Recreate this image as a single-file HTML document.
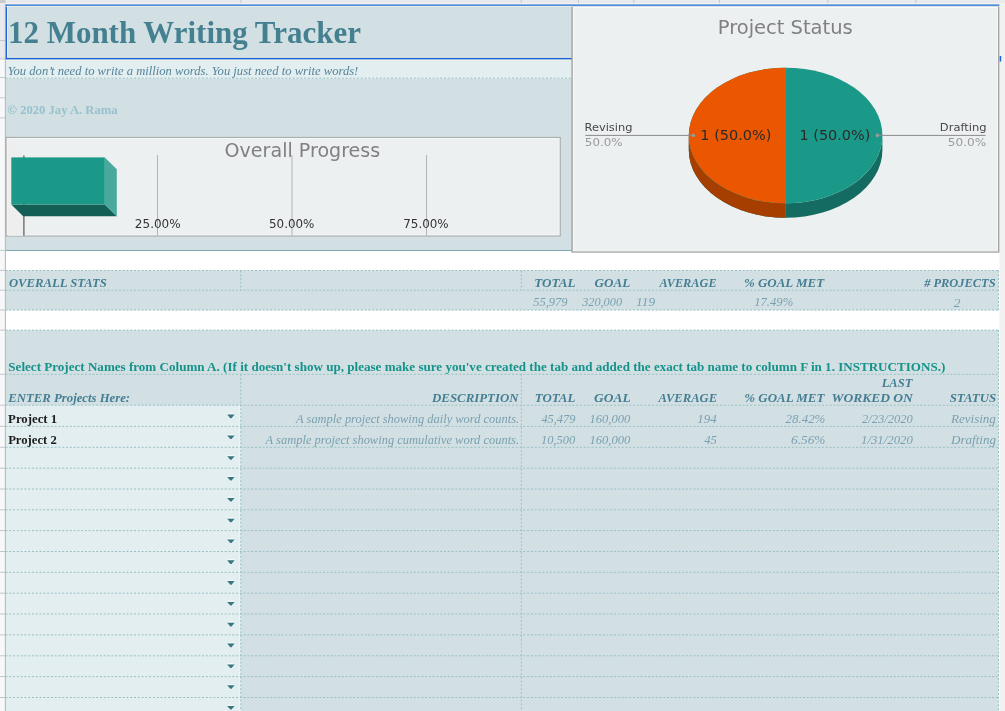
<!DOCTYPE html>
<html><head><meta charset="utf-8"><title>12 Month Writing Tracker</title>
<style>
html,body{margin:0;padding:0;background:#fff;}
body{width:1005px;height:711px;overflow:hidden;position:relative;}
svg{position:absolute;left:0;top:0;display:block;}
text{white-space:pre;}
</style></head><body>
<svg width="1005" height="711" viewBox="0 0 1005 711">
<rect x="0" y="0" width="1005" height="711" fill="#ffffff" />
<rect x="0" y="0" width="1005" height="3.4" fill="#e9eaed" />
<rect x="0" y="0" width="5.5" height="3.4" fill="#c9cacd" />
<rect x="0" y="4.5" width="5.5" height="706.5" fill="#f7f8f9" />
<rect x="0" y="3.4" width="5.5" height="55.6" fill="#e8e9ec" />
<rect x="999.5" y="4.5" width="5.5" height="711" fill="#f1f1f1" />
<rect x="5.5" y="4.5" width="993" height="246" fill="#d2e0e4" />
<rect x="5.5" y="59" width="993" height="20" fill="#e3eef0" />
<rect x="5.5" y="270.4" width="993" height="39.8" fill="#d2e0e4" />
<rect x="5.5" y="330.1" width="993" height="380.9" fill="#d2e0e4" />
<rect x="5.5" y="405.2" width="235.3" height="305.8" fill="#e3eef0" />
<line x1="239.8" y1="405.2" x2="239.8" y2="711" stroke="#eef5f6" stroke-width="1" />
<line x1="5.5" y1="250.5" x2="572" y2="250.5" stroke="#7eaab5" stroke-width="1" />
<line x1="5.5" y1="78.2" x2="572" y2="78.2" stroke="#97c0c5" stroke-width="1" stroke-dasharray="2 1.78"/>
<line x1="5.5" y1="270.5" x2="998.5" y2="270.5" stroke="#97c0c5" stroke-width="1" stroke-dasharray="2 1.78"/>
<line x1="5.5" y1="290.2" x2="998.5" y2="290.2" stroke="#97c0c5" stroke-width="1" stroke-dasharray="2 1.78"/>
<line x1="5.5" y1="310.0" x2="998.5" y2="310.0" stroke="#97c0c5" stroke-width="1" stroke-dasharray="2 1.78"/>
<line x1="240.8" y1="270.5" x2="240.8" y2="290.2" stroke="#97c0c5" stroke-width="1" stroke-dasharray="2 1.78"/>
<line x1="521.4" y1="270.5" x2="521.4" y2="290.2" stroke="#97c0c5" stroke-width="1" stroke-dasharray="2 1.78"/>
<line x1="998.5" y1="270.5" x2="998.5" y2="310" stroke="#97c0c5" stroke-width="1" stroke-dasharray="2 1.78"/>
<line x1="5.5" y1="330.1" x2="998.5" y2="330.1" stroke="#97c0c5" stroke-width="1" stroke-dasharray="2 1.78"/>
<line x1="5.5" y1="374.3" x2="998.5" y2="374.3" stroke="#97c0c5" stroke-width="1" stroke-dasharray="2 1.78"/>
<line x1="5.5" y1="405.2" x2="998.5" y2="405.2" stroke="#97c0c5" stroke-width="1" stroke-dasharray="2 1.78"/>
<line x1="5.5" y1="426.4" x2="998.5" y2="426.4" stroke="#97c0c5" stroke-width="1" stroke-dasharray="2 1.78"/>
<line x1="5.5" y1="447.3" x2="998.5" y2="447.3" stroke="#97c0c5" stroke-width="1" stroke-dasharray="2 1.78"/>
<line x1="5.5" y1="468.2" x2="998.5" y2="468.2" stroke="#97c0c5" stroke-width="1" stroke-dasharray="2 1.78"/>
<line x1="5.5" y1="489.0" x2="998.5" y2="489.0" stroke="#97c0c5" stroke-width="1" stroke-dasharray="2 1.78"/>
<line x1="5.5" y1="509.8" x2="998.5" y2="509.8" stroke="#97c0c5" stroke-width="1" stroke-dasharray="2 1.78"/>
<line x1="5.5" y1="530.6" x2="998.5" y2="530.6" stroke="#97c0c5" stroke-width="1" stroke-dasharray="2 1.78"/>
<line x1="5.5" y1="551.5" x2="998.5" y2="551.5" stroke="#97c0c5" stroke-width="1" stroke-dasharray="2 1.78"/>
<line x1="5.5" y1="572.3" x2="998.5" y2="572.3" stroke="#97c0c5" stroke-width="1" stroke-dasharray="2 1.78"/>
<line x1="5.5" y1="593.2" x2="998.5" y2="593.2" stroke="#97c0c5" stroke-width="1" stroke-dasharray="2 1.78"/>
<line x1="5.5" y1="614.0" x2="998.5" y2="614.0" stroke="#97c0c5" stroke-width="1" stroke-dasharray="2 1.78"/>
<line x1="5.5" y1="634.9" x2="998.5" y2="634.9" stroke="#97c0c5" stroke-width="1" stroke-dasharray="2 1.78"/>
<line x1="5.5" y1="655.8" x2="998.5" y2="655.8" stroke="#97c0c5" stroke-width="1" stroke-dasharray="2 1.78"/>
<line x1="5.5" y1="676.6" x2="998.5" y2="676.6" stroke="#97c0c5" stroke-width="1" stroke-dasharray="2 1.78"/>
<line x1="5.5" y1="697.5" x2="998.5" y2="697.5" stroke="#97c0c5" stroke-width="1" stroke-dasharray="2 1.78"/>
<line x1="240.8" y1="374.3" x2="240.8" y2="711" stroke="#97c0c5" stroke-width="1" stroke-dasharray="2 1.78"/>
<line x1="521.4" y1="374.3" x2="521.4" y2="711" stroke="#97c0c5" stroke-width="1" stroke-dasharray="2 1.78"/>
<line x1="998.5" y1="330.1" x2="998.5" y2="711" stroke="#97c0c5" stroke-width="1" stroke-dasharray="2 1.78"/>
<line x1="0" y1="59" x2="5.5" y2="59" stroke="#c4c6ca" stroke-width="1" />
<line x1="0" y1="77.6" x2="5.5" y2="77.6" stroke="#c4c6ca" stroke-width="1" />
<line x1="0" y1="97.8" x2="5.5" y2="97.8" stroke="#c4c6ca" stroke-width="1" />
<line x1="0" y1="117.9" x2="5.5" y2="117.9" stroke="#c4c6ca" stroke-width="1" />
<line x1="0" y1="250.3" x2="5.5" y2="250.3" stroke="#c4c6ca" stroke-width="1" />
<line x1="0" y1="270.4" x2="5.5" y2="270.4" stroke="#c4c6ca" stroke-width="1" />
<line x1="0" y1="290.2" x2="5.5" y2="290.2" stroke="#c4c6ca" stroke-width="1" />
<line x1="0" y1="310.0" x2="5.5" y2="310.0" stroke="#c4c6ca" stroke-width="1" />
<line x1="0" y1="330.1" x2="5.5" y2="330.1" stroke="#c4c6ca" stroke-width="1" />
<line x1="0" y1="374.3" x2="5.5" y2="374.3" stroke="#c4c6ca" stroke-width="1" />
<line x1="0" y1="405.2" x2="5.5" y2="405.2" stroke="#c4c6ca" stroke-width="1" />
<line x1="0" y1="426.4" x2="5.5" y2="426.4" stroke="#c4c6ca" stroke-width="1" />
<line x1="0" y1="447.3" x2="5.5" y2="447.3" stroke="#c4c6ca" stroke-width="1" />
<line x1="0" y1="468.2" x2="5.5" y2="468.2" stroke="#c4c6ca" stroke-width="1" />
<line x1="0" y1="489.0" x2="5.5" y2="489.0" stroke="#c4c6ca" stroke-width="1" />
<line x1="0" y1="509.8" x2="5.5" y2="509.8" stroke="#c4c6ca" stroke-width="1" />
<line x1="0" y1="530.6" x2="5.5" y2="530.6" stroke="#c4c6ca" stroke-width="1" />
<line x1="0" y1="551.5" x2="5.5" y2="551.5" stroke="#c4c6ca" stroke-width="1" />
<line x1="0" y1="572.3" x2="5.5" y2="572.3" stroke="#c4c6ca" stroke-width="1" />
<line x1="0" y1="593.2" x2="5.5" y2="593.2" stroke="#c4c6ca" stroke-width="1" />
<line x1="0" y1="614.0" x2="5.5" y2="614.0" stroke="#c4c6ca" stroke-width="1" />
<line x1="0" y1="634.9" x2="5.5" y2="634.9" stroke="#c4c6ca" stroke-width="1" />
<line x1="0" y1="655.8" x2="5.5" y2="655.8" stroke="#c4c6ca" stroke-width="1" />
<line x1="0" y1="676.6" x2="5.5" y2="676.6" stroke="#c4c6ca" stroke-width="1" />
<line x1="0" y1="697.5" x2="5.5" y2="697.5" stroke="#c4c6ca" stroke-width="1" />
<line x1="0" y1="40.5" x2="5.5" y2="40.5" stroke="#c4c6ca" stroke-width="1" />
<line x1="5.4" y1="3.4" x2="5.4" y2="711" stroke="#b8babd" stroke-width="1.1" />
<line x1="240.8" y1="0" x2="240.8" y2="3.4" stroke="#c4c6ca" stroke-width="1" />
<line x1="521.2" y1="0" x2="521.2" y2="3.4" stroke="#c4c6ca" stroke-width="1" />
<line x1="578.4" y1="0" x2="578.4" y2="3.4" stroke="#c4c6ca" stroke-width="1" />
<line x1="633.8" y1="0" x2="633.8" y2="3.4" stroke="#c4c6ca" stroke-width="1" />
<line x1="719.4" y1="0" x2="719.4" y2="3.4" stroke="#c4c6ca" stroke-width="1" />
<line x1="827.8" y1="0" x2="827.8" y2="3.4" stroke="#c4c6ca" stroke-width="1" />
<line x1="915.8" y1="0" x2="915.8" y2="3.4" stroke="#c4c6ca" stroke-width="1" />
<rect x="5.8" y="4.4" width="1.3" height="55.2" fill="#1a62d6" />
<rect x="7.1" y="6.0" width="0.9" height="51.9" fill="#eef3e6" />
<rect x="7.1" y="56.9" width="565" height="1.0" fill="#e3ebe2" />
<rect x="5.8" y="57.9" width="566.4" height="1.7" fill="#1a62d6" />
<rect x="5.8" y="59.6" width="566.4" height="0.9" fill="#f4f6e8" />
<rect x="999.6" y="56" width="1.6" height="5.5" fill="#1a62d6" />
<rect x="227.4" y="413.4" width="7" height="1" fill="#ffffff" opacity="0.7"/>
<path d="M227.2 414.6 L234.6 414.6 L231.5 418.2 L230.3 418.2 Z" fill="#367780"/>
<rect x="227.4" y="434.2" width="7" height="1" fill="#ffffff" opacity="0.7"/>
<path d="M227.2 435.4 L234.6 435.4 L231.5 439.0 L230.3 439.0 Z" fill="#367780"/>
<rect x="227.4" y="455.0" width="7" height="1" fill="#ffffff" opacity="0.7"/>
<path d="M227.2 456.2 L234.6 456.2 L231.5 459.8 L230.3 459.8 Z" fill="#367780"/>
<rect x="227.4" y="475.8" width="7" height="1" fill="#ffffff" opacity="0.7"/>
<path d="M227.2 477.0 L234.6 477.0 L231.5 480.6 L230.3 480.6 Z" fill="#367780"/>
<rect x="227.4" y="496.7" width="7" height="1" fill="#ffffff" opacity="0.7"/>
<path d="M227.2 497.9 L234.6 497.9 L231.5 501.5 L230.3 501.5 Z" fill="#367780"/>
<rect x="227.4" y="517.5" width="7" height="1" fill="#ffffff" opacity="0.7"/>
<path d="M227.2 518.7 L234.6 518.7 L231.5 522.3 L230.3 522.3 Z" fill="#367780"/>
<rect x="227.4" y="538.3" width="7" height="1" fill="#ffffff" opacity="0.7"/>
<path d="M227.2 539.5 L234.6 539.5 L231.5 543.1 L230.3 543.1 Z" fill="#367780"/>
<rect x="227.4" y="559.1" width="7" height="1" fill="#ffffff" opacity="0.7"/>
<path d="M227.2 560.3 L234.6 560.3 L231.5 563.9 L230.3 563.9 Z" fill="#367780"/>
<rect x="227.4" y="579.9" width="7" height="1" fill="#ffffff" opacity="0.7"/>
<path d="M227.2 581.1 L234.6 581.1 L231.5 584.7 L230.3 584.7 Z" fill="#367780"/>
<rect x="227.4" y="600.7" width="7" height="1" fill="#ffffff" opacity="0.7"/>
<path d="M227.2 601.9 L234.6 601.9 L231.5 605.5 L230.3 605.5 Z" fill="#367780"/>
<rect x="227.4" y="621.5" width="7" height="1" fill="#ffffff" opacity="0.7"/>
<path d="M227.2 622.8 L234.6 622.8 L231.5 626.4 L230.3 626.4 Z" fill="#367780"/>
<rect x="227.4" y="642.4" width="7" height="1" fill="#ffffff" opacity="0.7"/>
<path d="M227.2 643.6 L234.6 643.6 L231.5 647.2 L230.3 647.2 Z" fill="#367780"/>
<rect x="227.4" y="663.2" width="7" height="1" fill="#ffffff" opacity="0.7"/>
<path d="M227.2 664.4 L234.6 664.4 L231.5 668.0 L230.3 668.0 Z" fill="#367780"/>
<rect x="227.4" y="684.0" width="7" height="1" fill="#ffffff" opacity="0.7"/>
<path d="M227.2 685.2 L234.6 685.2 L231.5 688.8 L230.3 688.8 Z" fill="#367780"/>
<rect x="227.4" y="704.8" width="7" height="1" fill="#ffffff" opacity="0.7"/>
<path d="M227.2 706.0 L234.6 706.0 L231.5 709.6 L230.3 709.6 Z" fill="#367780"/>
<rect x="5.6" y="136.9" width="555.1" height="99.6" fill="#a3a3a3" />
<rect x="6.6" y="137.9" width="553.1" height="97.6" fill="#f7f9f9" />
<rect x="7.6" y="138.9" width="551.1" height="95.6" fill="#edf0f1" />
<path d="M7.7 139.2 L23.5 155 L23.5 235.7 L7.7 235.7 Z" fill="#efeeee"/>
<line x1="157.5" y1="155" x2="157.5" y2="235.7" stroke="#b3b3b3" stroke-width="1" />
<line x1="292" y1="155" x2="292" y2="235.7" stroke="#b3b3b3" stroke-width="1" />
<line x1="426.5" y1="155" x2="426.5" y2="235.7" stroke="#b3b3b3" stroke-width="1" />
<line x1="23.9" y1="155.5" x2="23.9" y2="235.7" stroke="#5a5a5a" stroke-width="1.2" />
<path d="M11.3 204.4 L104.8 204.4 L116.8 216.3 L23.2 216.3 Z" fill="#135f55"/>
<path d="M104.8 157.4 L116.8 169.2 L116.8 216.3 L104.8 204.4 Z" fill="#4aa99d"/>
<rect x="11.3" y="157.4" width="93.5" height="47" fill="#1b9988" />
<rect x="571.4" y="6.4" width="428.0" height="246.3" fill="#a3a3a3" />
<rect x="572.8" y="6.4" width="425.2" height="245.0" fill="#f8fafa" />
<rect x="573.9" y="7.9" width="423.2" height="243.0" fill="#edf0f1" />
<path d="M688.8000000000001 135.5 A96.8 67.8 0 0 0 882.4 135.5 L882.4 149.9 A96.8 67.8 0 0 1 688.8000000000001 149.9 Z" fill="#136b61"/>
<path d="M688.8000000000001 135.5 A96.8 67.8 0 0 0 785.6 203.3 L785.6 217.70000000000002 A96.8 67.8 0 0 1 688.8000000000001 149.9 Z" fill="#a63e00"/>
<ellipse cx="785.6" cy="135.5" rx="96.8" ry="67.8" fill="#1b9988"/>
<path d="M785.6 67.7 A96.8 67.8 0 0 0 785.6 203.3 Z" fill="#eb5600"/>
<line x1="785.4" y1="67.7" x2="785.4" y2="217.70000000000002" stroke="#f06a20" stroke-width="0.6" opacity="0.6"/>
<line x1="585.3" y1="135.4" x2="693.4" y2="135.4" stroke="#8a8a8a" stroke-width="1" />
<line x1="877.4" y1="135.4" x2="985.5" y2="135.4" stroke="#8a8a8a" stroke-width="1" />
<circle cx="693.4" cy="135.4" r="1.8" fill="#999"/>
<circle cx="877.4" cy="135.4" r="1.8" fill="#999"/>
<rect x="0" y="3.4" width="1005" height="1.0" fill="#f2efe8" />
<rect x="5.8" y="4.4" width="993.6" height="0.8" fill="#4a82cf" />
<rect x="5.8" y="5.2" width="993.6" height="0.8" fill="#2f80e6" />
<rect x="5.8" y="6.0" width="566.4" height="0.8" fill="#eef2e2" />
<text x="7.97" y="43.1" font-family="&quot;Liberation Serif&quot;, serif" font-size="32" font-weight="bold" font-style="normal" fill="#458091" textLength="352.93" lengthAdjust="spacingAndGlyphs">12 Month Writing Tracker</text>
<text x="7.66" y="74.5" font-family="&quot;Liberation Serif&quot;, serif" font-size="12.7" font-weight="normal" font-style="italic" fill="#56849a" textLength="350.66" lengthAdjust="spacingAndGlyphs">You don’t need to write a million words. You just need to write words!</text>
<text x="7.57" y="113.5" font-family="&quot;Liberation Serif&quot;, serif" font-size="13.4" font-weight="bold" font-style="normal" fill="#97c1cd" textLength="110.01" lengthAdjust="spacingAndGlyphs">© 2020 Jay A. Rama</text>
<text x="8.95" y="286.5" font-family="&quot;Liberation Serif&quot;, serif" font-size="13.1" font-weight="bold" font-style="italic" fill="#457e93" textLength="97.95" lengthAdjust="spacingAndGlyphs">OVERALL STATS</text>
<text x="534.24" y="286.5" font-family="&quot;Liberation Serif&quot;, serif" font-size="13.1" font-weight="bold" font-style="italic" fill="#457e93" textLength="41.30" lengthAdjust="spacingAndGlyphs">TOTAL</text>
<text x="594.57" y="286.5" font-family="&quot;Liberation Serif&quot;, serif" font-size="13.1" font-weight="bold" font-style="italic" fill="#457e93" textLength="35.56" lengthAdjust="spacingAndGlyphs">GOAL</text>
<text x="659.42" y="286.5" font-family="&quot;Liberation Serif&quot;, serif" font-size="13.1" font-weight="bold" font-style="italic" fill="#457e93" textLength="57.21" lengthAdjust="spacingAndGlyphs">AVERAGE</text>
<text x="743.93" y="286.5" font-family="&quot;Liberation Serif&quot;, serif" font-size="13.1" font-weight="bold" font-style="italic" fill="#457e93" textLength="80.23" lengthAdjust="spacingAndGlyphs">% GOAL MET</text>
<text x="924.15" y="286.5" font-family="&quot;Liberation Serif&quot;, serif" font-size="13.1" font-weight="bold" font-style="italic" fill="#457e93" textLength="71.44" lengthAdjust="spacingAndGlyphs"># PROJECTS</text>
<text x="533.26" y="306.2" font-family="&quot;Liberation Serif&quot;, serif" font-size="12.96" font-weight="normal" font-style="italic" fill="#7aa0b0" textLength="34.25" lengthAdjust="spacingAndGlyphs">55,979</text>
<text x="582.15" y="306.2" font-family="&quot;Liberation Serif&quot;, serif" font-size="12.96" font-weight="normal" font-style="italic" fill="#7aa0b0" textLength="39.89" lengthAdjust="spacingAndGlyphs">320,000</text>
<text x="636.12" y="306.2" font-family="&quot;Liberation Serif&quot;, serif" font-size="12.96" font-weight="normal" font-style="italic" fill="#7aa0b0" textLength="18.90" lengthAdjust="spacingAndGlyphs">119</text>
<text x="754.13" y="306.2" font-family="&quot;Liberation Serif&quot;, serif" font-size="12.96" font-weight="normal" font-style="italic" fill="#7aa0b0" textLength="39.12" lengthAdjust="spacingAndGlyphs">17.49%</text>
<text x="953.78" y="306.8" font-family="&quot;Liberation Serif&quot;, serif" font-size="12.96" font-weight="normal" font-style="italic" fill="#7aa0b0" textLength="6.78" lengthAdjust="spacingAndGlyphs">2</text>
<text x="8.33" y="370.9" font-family="&quot;Liberation Serif&quot;, serif" font-size="13.2" font-weight="bold" font-style="normal" fill="#17928a" textLength="936.97" lengthAdjust="spacingAndGlyphs">Select Project Names from Column A. (If it doesn't show up, please make sure you've created the tab and added the exact tab name to column F in 1. INSTRUCTIONS.)</text>
<text x="8.36" y="402.2" font-family="&quot;Liberation Serif&quot;, serif" font-size="13.1" font-weight="bold" font-style="italic" fill="#457e93" textLength="121.76" lengthAdjust="spacingAndGlyphs">ENTER Projects Here:</text>
<text x="432.07" y="402.2" font-family="&quot;Liberation Serif&quot;, serif" font-size="13.1" font-weight="bold" font-style="italic" fill="#457e93" textLength="86.47" lengthAdjust="spacingAndGlyphs">DESCRIPTION</text>
<text x="534.79" y="402.2" font-family="&quot;Liberation Serif&quot;, serif" font-size="13.1" font-weight="bold" font-style="italic" fill="#457e93" textLength="40.55" lengthAdjust="spacingAndGlyphs">TOTAL</text>
<text x="594.07" y="402.2" font-family="&quot;Liberation Serif&quot;, serif" font-size="13.1" font-weight="bold" font-style="italic" fill="#457e93" textLength="36.58" lengthAdjust="spacingAndGlyphs">GOAL</text>
<text x="658.44" y="402.1" font-family="&quot;Liberation Serif&quot;, serif" font-size="13.1" font-weight="bold" font-style="italic" fill="#457e93" textLength="58.61" lengthAdjust="spacingAndGlyphs">AVERAGE</text>
<text x="744.33" y="402.2" font-family="&quot;Liberation Serif&quot;, serif" font-size="13.1" font-weight="bold" font-style="italic" fill="#457e93" textLength="80.03" lengthAdjust="spacingAndGlyphs">% GOAL MET</text>
<text x="881.68" y="387" font-family="&quot;Liberation Serif&quot;, serif" font-size="13.1" font-weight="bold" font-style="italic" fill="#457e93" textLength="30.66" lengthAdjust="spacingAndGlyphs">LAST</text>
<text x="831.43" y="402.3" font-family="&quot;Liberation Serif&quot;, serif" font-size="13.1" font-weight="bold" font-style="italic" fill="#457e93" textLength="81.47" lengthAdjust="spacingAndGlyphs">WORKED ON</text>
<text x="949.64" y="402.2" font-family="&quot;Liberation Serif&quot;, serif" font-size="13.1" font-weight="bold" font-style="italic" fill="#457e93" textLength="46.54" lengthAdjust="spacingAndGlyphs">STATUS</text>
<text x="8.11" y="422.7" font-family="&quot;Liberation Serif&quot;, serif" font-size="13.39" font-weight="bold" font-style="normal" fill="#1c1c1c" textLength="49.08" lengthAdjust="spacingAndGlyphs">Project 1</text>
<text x="8.13" y="443.5" font-family="&quot;Liberation Serif&quot;, serif" font-size="13.39" font-weight="bold" font-style="normal" fill="#1c1c1c" textLength="48.72" lengthAdjust="spacingAndGlyphs">Project 2</text>
<text x="296.07" y="422.7" font-family="&quot;Liberation Serif&quot;, serif" font-size="13.18" font-weight="normal" font-style="italic" fill="#7aa0b0" textLength="223.07" lengthAdjust="spacingAndGlyphs">A sample project showing daily word counts.</text>
<text x="265.59" y="443.5" font-family="&quot;Liberation Serif&quot;, serif" font-size="13.18" font-weight="normal" font-style="italic" fill="#7aa0b0" textLength="253.52" lengthAdjust="spacingAndGlyphs">A sample project showing cumulative word counts.</text>
<text x="541.41" y="422.8" font-family="&quot;Liberation Serif&quot;, serif" font-size="12.96" font-weight="normal" font-style="italic" fill="#7aa0b0" textLength="33.91" lengthAdjust="spacingAndGlyphs">45,479</text>
<text x="540.91" y="443.6" font-family="&quot;Liberation Serif&quot;, serif" font-size="12.96" font-weight="normal" font-style="italic" fill="#7aa0b0" textLength="34.28" lengthAdjust="spacingAndGlyphs">10,500</text>
<text x="589.47" y="422.8" font-family="&quot;Liberation Serif&quot;, serif" font-size="12.96" font-weight="normal" font-style="italic" fill="#7aa0b0" textLength="40.83" lengthAdjust="spacingAndGlyphs">160,000</text>
<text x="589.47" y="443.6" font-family="&quot;Liberation Serif&quot;, serif" font-size="12.96" font-weight="normal" font-style="italic" fill="#7aa0b0" textLength="40.83" lengthAdjust="spacingAndGlyphs">160,000</text>
<text x="697.25" y="422.8" font-family="&quot;Liberation Serif&quot;, serif" font-size="12.96" font-weight="normal" font-style="italic" fill="#7aa0b0" textLength="19.38" lengthAdjust="spacingAndGlyphs">194</text>
<text x="704.22" y="443.7" font-family="&quot;Liberation Serif&quot;, serif" font-size="12.96" font-weight="normal" font-style="italic" fill="#7aa0b0" textLength="12.56" lengthAdjust="spacingAndGlyphs">45</text>
<text x="785.56" y="422.8" font-family="&quot;Liberation Serif&quot;, serif" font-size="12.96" font-weight="normal" font-style="italic" fill="#7aa0b0" textLength="39.83" lengthAdjust="spacingAndGlyphs">28.42%</text>
<text x="791.08" y="443.6" font-family="&quot;Liberation Serif&quot;, serif" font-size="12.96" font-weight="normal" font-style="italic" fill="#7aa0b0" textLength="34.34" lengthAdjust="spacingAndGlyphs">6.56%</text>
<text x="861.91" y="422.8" font-family="&quot;Liberation Serif&quot;, serif" font-size="12.96" font-weight="normal" font-style="italic" fill="#7aa0b0" textLength="50.98" lengthAdjust="spacingAndGlyphs">2/23/2020</text>
<text x="861.04" y="443.6" font-family="&quot;Liberation Serif&quot;, serif" font-size="12.96" font-weight="normal" font-style="italic" fill="#7aa0b0" textLength="51.88" lengthAdjust="spacingAndGlyphs">1/31/2020</text>
<text x="951.05" y="422.8" font-family="&quot;Liberation Serif&quot;, serif" font-size="12.96" font-weight="normal" font-style="italic" fill="#7aa0b0" textLength="44.76" lengthAdjust="spacingAndGlyphs">Revising</text>
<text x="951.05" y="443.6" font-family="&quot;Liberation Serif&quot;, serif" font-size="12.96" font-weight="normal" font-style="italic" fill="#7aa0b0" textLength="44.93" lengthAdjust="spacingAndGlyphs">Drafting</text>
<text x="224.56" y="156.9" font-family="&quot;DejaVu Sans&quot;, sans-serif" font-size="19" font-weight="normal" font-style="normal" fill="#808080" textLength="155.71" lengthAdjust="spacingAndGlyphs">Overall Progress</text>
<text x="717.77" y="34" font-family="&quot;DejaVu Sans&quot;, sans-serif" font-size="19" font-weight="normal" font-style="normal" fill="#808080" textLength="134.91" lengthAdjust="spacingAndGlyphs">Project Status</text>
<text x="134.83" y="228.1" font-family="&quot;DejaVu Sans&quot;, sans-serif" font-size="12" font-weight="normal" font-style="normal" fill="#333333" textLength="45.85" lengthAdjust="spacingAndGlyphs">25.00%</text>
<text x="269.05" y="228.1" font-family="&quot;DejaVu Sans&quot;, sans-serif" font-size="12" font-weight="normal" font-style="normal" fill="#333333" textLength="45.35" lengthAdjust="spacingAndGlyphs">50.00%</text>
<text x="403.29" y="228.1" font-family="&quot;DejaVu Sans&quot;, sans-serif" font-size="12" font-weight="normal" font-style="normal" fill="#333333" textLength="45.39" lengthAdjust="spacingAndGlyphs">75.00%</text>
<text x="700.39" y="140" font-family="&quot;DejaVu Sans&quot;, sans-serif" font-size="14" font-weight="normal" font-style="normal" fill="#2b2b2b" textLength="70.94" lengthAdjust="spacingAndGlyphs">1 (50.0%)</text>
<text x="799.47" y="140" font-family="&quot;DejaVu Sans&quot;, sans-serif" font-size="14" font-weight="normal" font-style="normal" fill="#2b2b2b" textLength="70.97" lengthAdjust="spacingAndGlyphs">1 (50.0%)</text>
<text x="584.47" y="131.4" font-family="&quot;DejaVu Sans&quot;, sans-serif" font-size="11.3" font-weight="normal" font-style="normal" fill="#474747" textLength="47.97" lengthAdjust="spacingAndGlyphs">Revising</text>
<text x="584.88" y="145.7" font-family="&quot;DejaVu Sans&quot;, sans-serif" font-size="11.3" font-weight="normal" font-style="normal" fill="#9a9a9a" textLength="37.64" lengthAdjust="spacingAndGlyphs">50.0%</text>
<text x="939.84" y="131.4" font-family="&quot;DejaVu Sans&quot;, sans-serif" font-size="11.3" font-weight="normal" font-style="normal" fill="#474747" textLength="46.80" lengthAdjust="spacingAndGlyphs">Drafting</text>
<text x="947.84" y="145.7" font-family="&quot;DejaVu Sans&quot;, sans-serif" font-size="11.3" font-weight="normal" font-style="normal" fill="#9a9a9a" textLength="38.48" lengthAdjust="spacingAndGlyphs">50.0%</text>
</svg>
</body></html>
